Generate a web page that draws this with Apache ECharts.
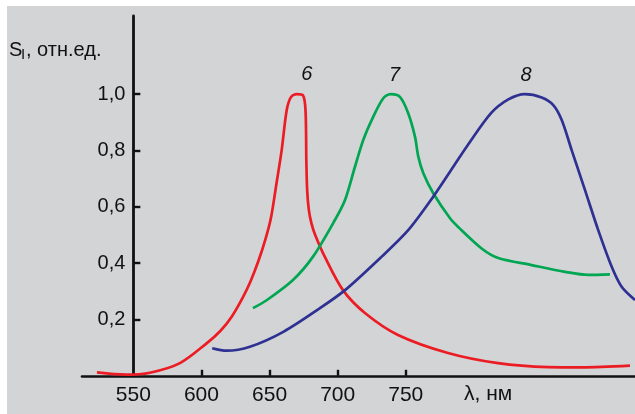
<!DOCTYPE html>
<html><head><meta charset="utf-8">
<script src="https://cdn.jsdelivr.net/npm/echarts@6/dist/echarts.min.js"></script>
<style>html,body{margin:0;padding:0;background:#fff}#c{width:635px;height:414px}</style>
</head><body><div id="c"></div>
<script>
// ---- data (λ in nm, S in relative units) ----
const curveNames = ['6', '7', '8'];
const redLambda = [523.3, 544.6, 562.2, 584.2, 604.0, 614.0, 622.2, 630.0, 636.0, 642.0, 647.0, 651.0, 655.0, 658.9, 662.6, 665.7, 670.1, 674.5, 676.4, 677.0, 677.6, 678.8, 680.8, 683.5, 690.7, 703.9, 720.0, 744.3, 781.0, 817.7, 854.4, 879.4, 914.6];
const redS      = [0.012, 0.004, 0.011, 0.045, 0.116, 0.160, 0.210, 0.275, 0.335, 0.410, 0.485, 0.560, 0.680, 0.801, 0.943, 0.989, 1.0, 0.996, 0.943, 0.766, 0.660, 0.590, 0.540, 0.500, 0.421, 0.304, 0.223, 0.145, 0.081, 0.045, 0.031, 0.030, 0.036];
const greenLambda = [637.8, 648.1, 667.2, 681.9, 698.0, 705.4, 712.7, 718.8, 726.1, 733.5, 738.9, 745.7, 751.8, 756.8, 759.2, 762.9, 770.2, 782.5, 788.3, 805.7, 817.9, 842.4, 866.9, 883.8, 899.9];
const greenS      = [0.240, 0.269, 0.340, 0.423, 0.553, 0.624, 0.742, 0.837, 0.919, 0.985, 1.0, 0.990, 0.932, 0.848, 0.778, 0.719, 0.648, 0.559, 0.529, 0.452, 0.418, 0.393, 0.369, 0.358, 0.360];
const blueLambda = [607.9, 618.5, 635.6, 660.1, 687.0, 705.4, 732.3, 751.8, 770.2, 784.9, 794.7, 812.6, 825.3, 837.5, 849.8, 858.3, 864.5, 871.8, 881.6, 891.3, 901.2, 908.5, 918.3];
const blueS      = [0.098, 0.089, 0.103, 0.156, 0.240, 0.304, 0.423, 0.517, 0.636, 0.742, 0.813, 0.932, 0.981, 1.0, 0.988, 0.961, 0.908, 0.801, 0.659, 0.517, 0.387, 0.316, 0.269];
const xLabelValues = [550, 600, 650, 700, 750];
const xTickValues = [600, 650, 700, 750];
const yTickValues = [0.2, 0.4, 0.6, 0.8, 1.0];
const yAxisTitle = ['S', 'I', ', отн.ед.'];
const xAxisTitle = 'λ, нм';

// ---- layout ----
const W = 635, H = 414;
const X_MIN = 512.3, X_MAX = 918.3, Y_MAX = 1.277, AXIS_CROSS = 550;
const GL = 82, GT = 16, GB = 38.2;
const gridWidth = W - GL;
const yOffset = -(AXIS_CROSS - X_MIN) * gridWidth / (X_MAX - X_MIN);
const FONT = "'Liberation Sans', Arial, Helvetica, sans-serif";
const colors = ['#ec1c24', '#00a651', '#2e3192'];
const labelOffsets = [[10, -20], [4, -19], [1, -19]];

const pairs = (xs, ys) => xs.map((x, i) => [x, ys[i]]);
const sets = [pairs(redLambda, redS), pairs(greenLambda, greenS), pairs(blueLambda, blueS)];

const chart = echarts.init(document.getElementById('c'), null, {renderer: 'canvas'});
chart.setOption({
  animation: false,
  backgroundColor: '#ffffff',
  grid: {left: GL, right: 0, top: GT, bottom: GB, containLabel: false},
  xAxis: {
    type: 'value', min: X_MIN, max: X_MAX,
    axisLine: {show: true, onZero: false, lineStyle: {color: '#111', width: 2.6}},
    axisTick: {show: true, inside: true, length: 6, customValues: xTickValues, lineStyle: {color: '#111', width: 2.4}},
    axisLabel: {show: true, customValues: xLabelValues, margin: 9, color: '#111', fontSize: 21, fontFamily: FONT},
    splitLine: {show: false}
  },
  yAxis: {
    type: 'value', min: 0, max: Y_MAX, position: 'left', offset: yOffset,
    axisLine: {show: true, lineStyle: {color: '#111', width: 2.8}},
    axisTick: {show: true, inside: true, length: 7, customValues: yTickValues, lineStyle: {color: '#111', width: 2.4}},
    axisLabel: {show: true, customValues: yTickValues, margin: 8, color: '#111', fontSize: 20, fontFamily: FONT,
      formatter: v => v.toFixed(1).replace('.', ',')},
    splitLine: {show: false}
  },
  graphic: {elements: [
    {type: 'rect', z: -100, silent: true, shape: {x: 7, y: 6, width: W - 7, height: H - 6}, style: {fill: '#d3d4d6'}},
    {type: 'text', left: 9, top: 40, style: {text: yAxisTitle[0], font: '20px ' + FONT, fill: '#111'}},
    {type: 'text', left: 21, top: 47, style: {text: yAxisTitle[1], font: '15px ' + FONT, fill: '#111'}},
    {type: 'text', left: 26, top: 40, style: {text: yAxisTitle[2], font: '20px ' + FONT, fill: '#111'}},
    {type: 'text', left: 464, top: 384, style: {text: xAxisTitle, font: '21px ' + FONT, fill: '#111'}}
  ]},
  series: sets.map((d, i) => ({
    type: 'line', name: curveNames[i], data: d, smooth: 0.3,
    showSymbol: false, symbol: 'none', clip: true,
    lineStyle: {color: colors[i], width: 2.7},
    z: 3,
    markPoint: {
      symbol: 'circle', symbolSize: 0, silent: true,
      data: [{type: 'max'}],
      label: {show: true, formatter: curveNames[i], offset: labelOffsets[i], color: '#111',
        fontSize: 20, fontStyle: 'italic', fontFamily: FONT}
    }
  }))
});
</script></body></html>
